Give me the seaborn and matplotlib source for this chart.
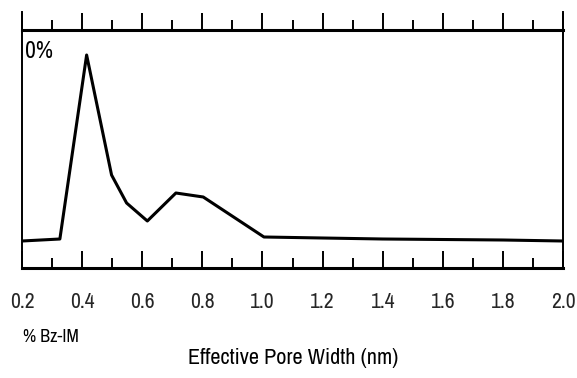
import matplotlib
matplotlib.use("Agg")
import matplotlib.pyplot as plt
import seaborn as sns
import pandas as pd
import numpy as np

# Data
pore_width = [0.2, 0.326, 0.415, 0.498, 0.548, 0.617, 0.712, 0.803, 1.005, 1.2, 1.4, 1.6, 1.8, 2.0]
intensity = [27, 29, 213, 93, 65, 47, 75, 71, 31, 30, 29, 28.5, 28, 27]
xticks = [0.2, 0.4, 0.6, 0.8, 1.0, 1.2, 1.4, 1.6, 1.8, 2.0]
xtick_labels = ["0.2", "0.4", "0.6", "0.8", "1.0", "1.2", "1.4", "1.6", "1.8", "2.0"]
minor_ticks = [0.3, 0.5, 0.7, 0.9, 1.1, 1.3, 1.5, 1.7, 1.9]
panel_label = "0%"
series_label = "% Bz-IM"
xlabel = "Effective Pore Width (nm)"

sns.set_style("white")
plt.rcParams['font.family'] = ['Archivo Narrow', 'Liberation Sans', 'DejaVu Sans']

df = pd.DataFrame({"x": pore_width, "y": intensity})

fig = plt.figure(figsize=(5.77, 3.78), dpi=100)
ax = fig.add_axes([22/577, 1 - 268/378, (563-22)/577, (268-30)/378])

sns.lineplot(data=df, x="x", y="y", ax=ax, color="black", linewidth=2.2, sort=False)

ax.set_xlim(0.2, 2.0)
ax.set_ylim(0, 238)
ax.set_yticks([])
ax.set_ylabel("")
ax.set_xlabel("")

ax.set_xticks(xticks)
ax.set_xticklabels(xtick_labels)
ax.set_xticks(minor_ticks, minor=True)
ax.tick_params(axis='x', which='major', direction='in', length=12, width=1.4,
               color='black', labelsize=15.5, pad=17, bottom=True, top=False)
ax.tick_params(axis='x', which='minor', direction='in', length=7, width=1.4,
               color='black', bottom=True, top=False)

for s in ["left", "right", "bottom", "top"]:
    ax.spines[s].set_color("black")
ax.spines["bottom"].set_linewidth(2.2)
ax.spines["top"].set_linewidth(2.2)
ax.spines["left"].set_linewidth(1.4)
ax.spines["right"].set_linewidth(1.4)
ax.spines["left"].set_bounds(0, 256)
ax.spines["right"].set_bounds(0, 256)

sec = ax.secondary_xaxis('top')
sec.set_xticks(xticks)
sec.set_xticks(minor_ticks, minor=True)
sec.tick_params(axis='x', which='major', direction='out', length=12.5, width=1.4,
                color='black', labeltop=False)
sec.tick_params(axis='x', which='minor', direction='out', length=7, width=1.4,
                color='black', labeltop=False)
sec.spines['top'].set_visible(False)

ax.text(0.006, 0.955, panel_label, transform=ax.transAxes, fontsize=17,
        ha='left', va='top', color='black')
fig.text(23/577, 1 - 337/378, series_label, fontsize=13, ha='left', va='center', color='black')
fig.text(293/577, 1 - 358/378, xlabel, fontsize=16, ha='center', va='center', color='black')

fig.savefig("out.png", dpi=100)
